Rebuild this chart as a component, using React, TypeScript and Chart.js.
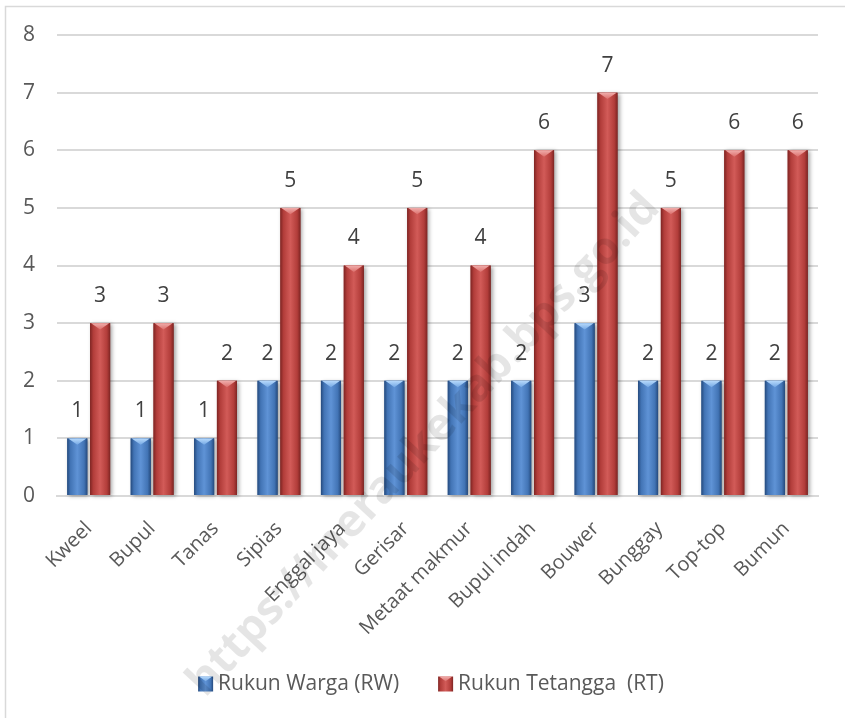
import React, { useEffect, useRef } from "react";
import { Chart, registerables } from "chart.js";

Chart.register(...registerables);

const categories = [
  "Kweel",
  "Bupul",
  "Tanas",
  "Sipias",
  "Enggal jaya",
  "Gerisar",
  "Metaat makmur",
  "Bupul indah",
  "Bouwer",
  "Bunggay",
  "Top-top",
  "Bumun",
];
const rwValues = [1, 1, 1, 2, 2, 2, 2, 2, 3, 2, 2, 2];
const rtValues = [3, 3, 2, 5, 4, 5, 4, 6, 7, 5, 6, 6];
const seriesNames = ["Rukun Warga (RW)", "Rukun Tetangga  (RT)"];
const yMin = 0;
const yMax = 8;
const yStep = 1;
const watermarkText = "https://meraukekab.bps.go.id";

const FONT = "'Open Sans', 'DejaVu Sans', sans-serif";
const TEXT = "#595959";

const palettes = [
  { dark: "#254a7d", mid: "#4274b5", light: "#5f93d6", cap: "#b8dafc", capEdge: "#74a8e4" },
  { dark: "#7e2523", mid: "#b23d3a", light: "#d25b58", cap: "#f0aeac", capEdge: "#dc6f6c" },
];

function bodyGradient(ctx: CanvasRenderingContext2D, left: number, right: number, p: any) {
  const g = ctx.createLinearGradient(left, 0, right, 0);
  g.addColorStop(0, p.dark);
  g.addColorStop(0.16, p.mid);
  g.addColorStop(0.5, p.light);
  g.addColorStop(0.84, p.mid);
  g.addColorStop(1, p.dark);
  return g;
}

function drawBevelBar(ctx: CanvasRenderingContext2D, x: number, top: number, base: number, width: number, p: any, shadow: boolean) {
  const left = x - width / 2;
  const right = x + width / 2;
  ctx.save();
  if (shadow) {
    ctx.shadowColor = "rgba(0,0,0,0.35)";
    ctx.shadowBlur = 4;
    ctx.shadowOffsetX = 2;
    ctx.shadowOffsetY = 1;
  }
  ctx.fillStyle = bodyGradient(ctx, left, right, p);
  ctx.fillRect(left, top, width, base - top);
  ctx.restore();
  const depth = Math.min(width * 0.32, (base - top) * 0.5);
  ctx.save();
  const cg = ctx.createLinearGradient(0, top, 0, top + depth);
  cg.addColorStop(0, p.cap);
  cg.addColorStop(1, p.capEdge);
  ctx.fillStyle = cg;
  ctx.beginPath();
  ctx.moveTo(left + 1, top);
  ctx.lineTo(right - 1, top);
  ctx.lineTo(x, top + depth);
  ctx.closePath();
  ctx.fill();
  ctx.restore();
}

const framePlugin = {
  id: "frame",
  beforeDraw(chart: any) {
    const ctx = chart.ctx as CanvasRenderingContext2D;
    ctx.save();
    ctx.fillStyle = "#ffffff";
    ctx.fillRect(0, 0, chart.width, chart.height);
    ctx.strokeStyle = "#d9d9d9";
    ctx.lineWidth = 1.5;
    ctx.beginPath();
    ctx.moveTo(5.5, chart.height + 2);
    ctx.lineTo(5.5, 6.5);
    ctx.lineTo(chart.width + 2, 6.5);
    ctx.stroke();
    ctx.restore();
  },
};

const bevelPlugin = {
  id: "bevel",
  afterDatasetsDraw(chart: any) {
    const ctx = chart.ctx as CanvasRenderingContext2D;
    chart.data.datasets.forEach((ds: any, i: number) => {
      const meta = chart.getDatasetMeta(i);
      const p = palettes[i];
      meta.data.forEach((bar: any, j: number) => {
        const { x, y, base, width } = bar.getProps(["x", "y", "base", "width"], true);
        drawBevelBar(ctx, x, y, base, width, p, true);
        ctx.save();
        ctx.fillStyle = "#404040";
        ctx.font = `21px ${FONT}`;
        ctx.textAlign = "center";
        ctx.textBaseline = "middle";
        ctx.fillText(String(ds.data[j]), x, y - 27);
        ctx.restore();
      });
    });
  },
  afterDraw(chart: any) {
    const ctx = chart.ctx as CanvasRenderingContext2D;
    ctx.save();
    ctx.font = `21px ${FONT}`;
    ctx.textBaseline = "middle";
    ctx.textAlign = "left";
    const box = 15;
    const gapText = 5;
    const gapItem = 39;
    const widths = seriesNames.map((n) => ctx.measureText(n).width);
    const total = widths.reduce((a, w) => a + box + gapText + w, 0) + gapItem * (seriesNames.length - 1);
    let cx = 431 - total / 2;
    const cy = 684;
    seriesNames.forEach((name, i) => {
      drawBevelBar(ctx, cx + box / 2, cy - box / 2, cy + box / 2, box, palettes[i], false);
      ctx.fillStyle = TEXT;
      ctx.fillText(name, cx + box + gapText, cy);
      cx += box + gapText + widths[i] + gapItem;
    });
    ctx.restore();
    ctx.save();
    ctx.translate(424, 445);
    ctx.rotate((-47 * Math.PI) / 180);
    ctx.font = `bold 45px ${FONT}`;
    ctx.textAlign = "center";
    ctx.textBaseline = "middle";
    ctx.fillStyle = "rgba(0,0,0,0.1)";
    ctx.fillText(watermarkText, 0, 0);
    ctx.restore();
  },
};

export default function App() {
  const ref = useRef<HTMLCanvasElement | null>(null);
  useEffect(() => {
    if (!ref.current) return;
    const chart = new Chart(ref.current, {
      type: "bar",
      data: {
        labels: categories,
        datasets: [
          { label: seriesNames[0], data: rwValues, backgroundColor: palettes[0].mid, borderWidth: 0 },
          { label: seriesNames[1], data: rtValues, backgroundColor: palettes[1].mid, borderWidth: 0 },
        ],
      },
      options: {
        animation: false,
        responsive: false,
        maintainAspectRatio: false,
        devicePixelRatio: 1,
        layout: { padding: { left: 0, right: 27, top: 35, bottom: 0 } },
        datasets: { bar: { categoryPercentage: 0.72, barPercentage: 0.88 } },
        plugins: {
          legend: { display: false },
          tooltip: { enabled: false },
        },
        scales: {
          x: {
            grid: { display: false, drawTicks: false },
            border: { display: true, color: "#d9d9d9", width: 2 },
            ticks: {
              font: { family: FONT, size: 20 },
              color: TEXT,
              minRotation: 45,
              maxRotation: 45,
              padding: 21,
              autoSkip: false,
            },
            afterFit: (s: any) => {
              s.height = 222;
            },
          },
          y: {
            min: yMin,
            max: yMax,
            grid: { color: "#d9d9d9", lineWidth: 2, drawTicks: false },
            border: { display: false },
            ticks: {
              stepSize: yStep,
              font: { family: FONT, size: 21 },
              color: TEXT,
              padding: 22,
            },
            afterFit: (s: any) => {
              s.width = 57;
            },
          },
        },
      },
      plugins: [framePlugin, bevelPlugin],
    });
    return () => chart.destroy();
  }, []);
  return (
    <div style={{ position: "absolute", left: 0, top: 0, width: 845, height: 718 }}>
      <canvas ref={ref} width={845} height={718} style={{ display: "block" }} />
    </div>
  );
}
